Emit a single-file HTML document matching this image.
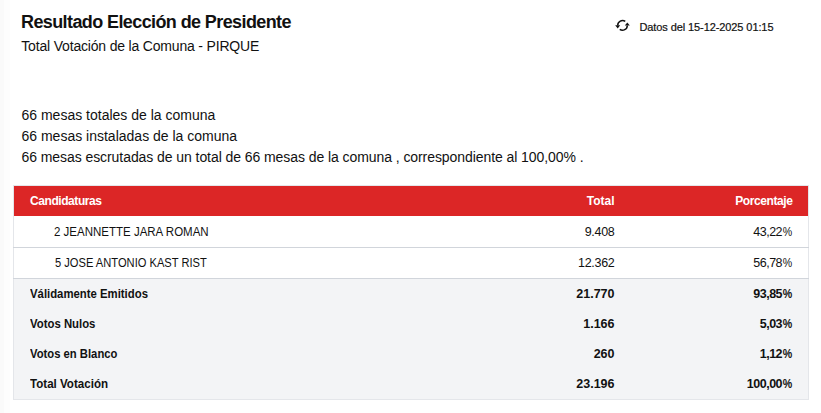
<!DOCTYPE html>
<html>
<head>
<meta charset="utf-8">
<style>
html,body{margin:0;padding:0;background:#fff;width:821px;height:413px;overflow:hidden;}
body{font-family:"Liberation Sans", sans-serif;color:#111;position:relative;}
.abs{position:absolute;white-space:nowrap;line-height:1;}
#band1{position:absolute;left:0;top:0;width:4px;height:413px;background:#fafafa;}
#band2{position:absolute;left:4px;top:0;width:6px;height:413px;background:#fdfdfd;}
#title{left:21px;top:13px;font-size:18px;font-weight:bold;letter-spacing:-0.6px;}
#sub{left:21.3px;top:39px;font-size:14px;letter-spacing:-0.18px;}
#datos{-webkit-text-stroke:0.2px #111;left:639.4px;top:22px;font-size:11px;letter-spacing:-0.09px;}
#icon{position:absolute;left:612px;top:16px;width:22px;height:18px;}
.body{left:21.5px;font-size:14px;}
#tbl{position:absolute;left:13px;top:185px;width:794px;height:213px;border:1px solid #e4e6ea;}
.row{position:absolute;left:0;width:794px;}
.hdr{background:#dc2626;color:#fff;font-weight:bold;font-size:12px;letter-spacing:-0.43px;}
.gray{font-weight:bold;font-size:12.5px;}
.white{background:#fff;font-size:12.5px;}
.c{position:absolute;white-space:nowrap;line-height:1;}
.hdr .c{top:9px;}
.white .c{top:10px;}
.gray .c{top:9px;}
.r2 .c{top:9px;}
.l{left:16px;}
.n{left:40px;}
.t{right:193.5px;text-align:right;}
.white .t{letter-spacing:-0.3px;}
.p{right:16px;text-align:right;letter-spacing:-0.5px;}
.pc{display:inline-block;transform:scaleX(0.85);transform-origin:100% 50%;margin-left:-1.2px;letter-spacing:0;}
.white .p{letter-spacing:-0.5px;}
.hdr .p{right:15.5px;letter-spacing:-0.4px;}
.hdr .t{letter-spacing:0;}
</style>
</head>
<body>
<div id="band1"></div><div id="band2"></div>
<div class="abs" id="title">Resultado Elección de Presidente</div>
<div class="abs" id="sub">Total Votación de la Comuna - PIRQUE</div>
<svg id="icon" viewBox="612 16 22 18"><path d="M625.25 21.47 A4.8 4.8 0 0 0 617.7 25.4" fill="none" stroke="#111" stroke-width="1.5"/><path d="M619.75 29.33 A4.8 4.8 0 0 0 627.3 25.4" fill="none" stroke="#111" stroke-width="1.5"/><path d="M615.2 25.2 L620.2 25.2 L617.7 28.4 Z" fill="#111"/><path d="M624.8 25.6 L629.8 25.6 L627.3 22.4 Z" fill="#111"/></svg>
<div class="abs" id="datos">Datos del 15-12-2025 01:15</div>
<div class="abs body" style="top:108px">66 mesas totales de la comuna</div>
<div class="abs body" style="top:129px">66 mesas instaladas de la comuna</div>
<div class="abs body" style="top:150px;letter-spacing:-0.07px">66 mesas escrutadas de un total de 66 mesas de la comuna , correspondiente al 100,00% .</div>
<div id="tbl">
  <div class="row hdr" style="top:0;height:30px;">
    <div class="c l">Candidaturas</div>
    <div class="c t">Total</div>
    <div class="c p">Porcentaje</div>
  </div>
  <div class="row white" style="top:30px;height:31px;">
    <div class="c n" style="transform:scaleX(0.92);transform-origin:0 0">2 JEANNETTE JARA ROMAN</div>
    <div class="c t">9.408</div>
    <div class="c p">43,22<span class="pc">%</span></div>
  </div>
  <div class="row white r2" style="top:62px;height:30px;">
    <div class="c n" style="left:41px;top:9px;transform:scaleX(0.891);transform-origin:0 0">5 JOSE ANTONIO KAST RIST</div>
    <div class="c t">12.362</div>
    <div class="c p">56,78<span class="pc">%</span></div>
  </div>
  <div class="row" style="top:93px;height:120px;background:#f3f4f6;"></div>
  <div style="position:absolute;left:-1px;top:61px;width:796px;height:1px;background:#d1d5db"></div>
  <div style="position:absolute;left:-1px;top:92px;width:796px;height:1px;background:#d1d5db"></div>
  <div class="row gray" style="top:93px;height:30px;">
    <div class="c l" style="transform:scaleX(0.908);transform-origin:0 0">Válidamente Emitidos</div>
    <div class="c t">21.770</div>
    <div class="c p">93,85<span class="pc">%</span></div>
  </div>
  <div class="row gray" style="top:123px;height:30px;">
    <div class="c l" style="transform:scaleX(0.909);transform-origin:0 0">Votos Nulos</div>
    <div class="c t">1.166</div>
    <div class="c p">5,03<span class="pc">%</span></div>
  </div>
  <div class="row gray" style="top:153px;height:30px;">
    <div class="c l" style="transform:scaleX(0.901);transform-origin:0 0">Votos en Blanco</div>
    <div class="c t">260</div>
    <div class="c p">1,12<span class="pc">%</span></div>
  </div>
  <div class="row gray" style="top:183px;height:30px;">
    <div class="c l" style="transform:scaleX(0.926);transform-origin:0 0">Total Votación</div>
    <div class="c t">23.196</div>
    <div class="c p">100,00<span class="pc">%</span></div>
  </div>
</div>
</body>
</html>
